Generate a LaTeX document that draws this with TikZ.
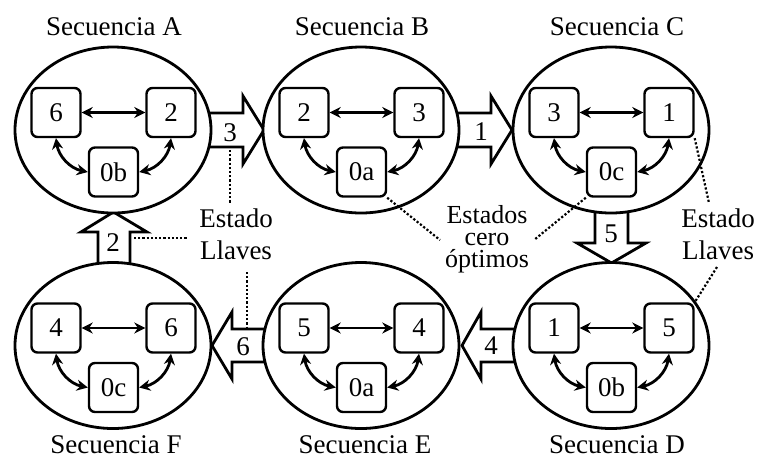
\documentclass[tikz,border=0pt]{standalone}
\usepackage{fontspec}
\setmainfont{Liberation Serif}
\usetikzlibrary{shapes.geometric,arrows.meta,calc}
\newcommand\bigtxt{\fontsize{27}{32}\selectfont}
\newcommand\tighttxt{\fontsize{26}{22}\selectfont}
\newcommand\seqgroup[6]{%
  \node[seq] (#1) at (#2,#3) {};
  \begin{scope}[shift={(#2,#3)}]
    \node[keybox] (#1l) at (-57,-17.5) {#4};
    \node[keybox] (#1r) at (58,-17.5) {#5};
    \node[keybox] (#1b) at (0.5,42) {#6};
  \end{scope}
  \draw[link] (#1l) -- (#1r);
  \draw[link] (#1l.south) to[bend right=35] (#1b.west);
  \draw[link] (#1r.south) to[bend left=35] (#1b.east);
}
\begin{document}
\begin{tikzpicture}[x=1pt,y=-1pt,
  seq/.style={ellipse,draw,line width=2.8pt,fill=white,minimum width=196pt,minimum height=166pt,inner sep=0pt},
  keybox/.style={draw,rounded corners=6pt,line width=2.4pt,minimum width=49pt,minimum height=49pt,inner sep=0pt,font=\bigtxt},
  link/.style={line width=2.8pt,{Stealth[length=11pt,width=11pt]}-{Stealth[length=11pt,width=11pt]}},
  blockarrow/.style={draw,line width=2.8pt,fill=white,line join=miter},
  lbl/.style={font=\bigtxt,inner sep=0pt},
  note/.style={font=\tighttxt,inner sep=0pt,align=center},
  dots/.style={dotted,line width=2.2pt}
]
\useasboundingbox (0,0) rectangle (758,459);
% block arrows (drawn first, ellipses cover their starts)
\draw[blockarrow] (200,113) -- (243,113) -- (243,96) -- (264,130) -- (243,164) -- (243,147) -- (200,147) -- cycle;
\draw[blockarrow] (450,113) -- (491,113) -- (491,96) -- (512,130) -- (491,164) -- (491,147) -- (450,147) -- cycle;
\draw[blockarrow] (595,200) -- (595,243) -- (577,243) -- (611.5,263) -- (646,243) -- (628,243) -- (628,200) -- cycle;
\draw[blockarrow] (525,329) -- (481,329) -- (481,312) -- (462,345.5) -- (481,379) -- (481,362) -- (525,362) -- cycle;
\draw[blockarrow] (275,329) -- (232,329) -- (232,312) -- (212,345.5) -- (232,379) -- (232,362) -- (275,362) -- cycle;
\draw[blockarrow] (98,275) -- (98,232) -- (81,232) -- (113.5,212) -- (147,232) -- (130,232) -- (130,275) -- cycle;
% sequences
\seqgroup{A}{113}{130}{6}{2}{0b}
\seqgroup{B}{361}{130}{2}{3}{0a}
\seqgroup{C}{611}{130}{3}{1}{0c}
\seqgroup{F}{113}{345.5}{4}{6}{0c}
\seqgroup{E}{361}{345.5}{5}{4}{0a}
\seqgroup{D}{611}{345.5}{1}{5}{0b}
% titles
\node[lbl,anchor=base] (tA) at (114,35) {Secuencia A};
\node[lbl,anchor=base] (tB) at (362,35) {Secuencia B};
\node[lbl,anchor=base] (tC) at (617,35) {Secuencia C};
\node[lbl,anchor=base] (tF) at (116,453) {Secuencia F};
\node[lbl,anchor=base] (tE) at (365,453) {Secuencia E};
\node[lbl,anchor=base] (tD) at (617,453) {Secuencia D};
% arrow labels
\node[lbl] (n3) at (230,133) {3};
\node[lbl] (n1) at (481,132) {1};
\node[lbl] (n5) at (611,234) {5};
\node[lbl] (n4) at (491,346) {4};
\node[lbl] (n6) at (243,347) {6};
\node[lbl] (n2) at (113,243) {2};
% annotations
\node[lbl,align=center,anchor=north,font=\fontsize{27}{32}\selectfont] (eL) at (236,209) {Estado\\Llaves};
\node[note,anchor=north] (eM) at (487,205) {Estados\\cero\\óptimos};
\node[lbl,align=center,anchor=north,font=\fontsize{27}{32}\selectfont] (eR) at (718,209) {Estado\\Llaves};
% dotted leaders
\draw[dots] (230,150) -- (230,203);
\draw[dots] (134,238) -- (188,238);
\draw[dots] (247,272) -- (247,327);
\draw[dots] (Bb.south east) -- (440,240);
\draw[dots] (Cb.south west) -- (534,240);
\draw[dots] (Cr.south east) -- (709,203);
\draw[dots] (717,267) -- (Dr.north east);
\end{tikzpicture}
\end{document}
